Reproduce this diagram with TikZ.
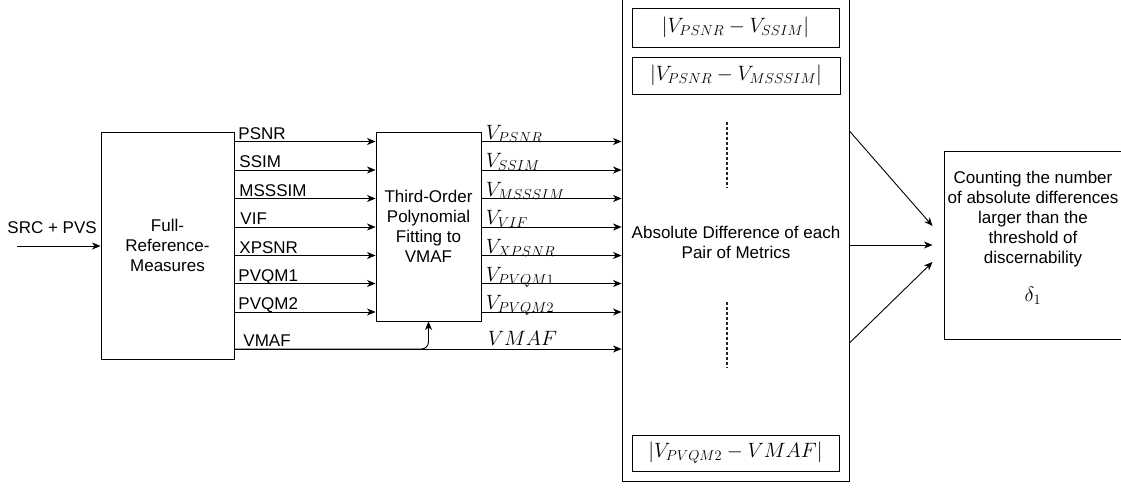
\documentclass[tikz,border=0pt]{standalone}
\usepackage{fontspec}
\setmainfont{Liberation Sans}
\usetikzlibrary{arrows.meta}
\begin{document}
\begin{tikzpicture}[x=1pt,y=-1pt,line width=0.9pt,
  every node/.style={font=\fontsize{17}{20}\selectfont,inner sep=0pt},
  box/.style={draw,rectangle,inner sep=0pt},
  arr/.style={-{Stealth[length=8.5pt,width=7pt,inset=2.5pt]}},
  lbl/.style={anchor=base west},
  mfont/.style={font=\fontsize{21.5}{24}\selectfont},
  mlbl/.style={anchor=base west,mfont},
  dots/.style={dash pattern=on 3pt off 2pt,line width=1.1pt,draw=black!85}]
\clip (0,0) rectangle (1121,487);

% rows of the metric signals
\coordinate (r1) at (0,141.5);
\coordinate (r2) at (0,170);
\coordinate (r3) at (0,198.5);
\coordinate (r4) at (0,227);
\coordinate (r5) at (0,255.5);
\coordinate (r6) at (0,283.5);
\coordinate (r7) at (0,312);
\coordinate (r8) at (0,349);

% blocks
\node[box,minimum width=133pt,minimum height=227pt,align=center] (fr) at (167.5,245.5) {Full-\\Reference-\\Measures};
\node[box,minimum width=105pt,minimum height=189pt,align=center] (fit) at (428.5,226.5) {Third-Order\\Polynomial\\Fitting to\\VMAF};
\node[box,minimum width=227pt,minimum height=490pt] (big) at (735.5,236) {};
\node[box,minimum width=180pt,minimum height=188pt] (rb) at (1034,245) {};

% input
\node[lbl] (srclbl) at (7,233) {SRC + PVS};
\coordinate (src) at (17,246);
\draw[arr] (src) -- (fr.west |- src);

% measures into the fitting block
\foreach \r/\t/\x in {r1/PSNR/238,r2/SSIM/239,r3/MSSSIM/239,r4/VIF/240,r5/XPSNR/239,r6/PVQM1/238,r7/PVQM2/238}{
  \draw[arr] (fr.east |- \r) -- (fit.west |- \r);
  \node[lbl] at ([xshift=\x pt,yshift=2.5pt]\r) {\t};
}
\node[lbl] (vmaflbl) at ([xshift=243pt,yshift=2.5pt]r8) {VMAF};

% fitted metrics into the difference block
\foreach \r/\t in {r1/PSNR,r2/SSIM,r3/MSSSIM,r4/VIF,r5/XPSNR,r6/PVQM1,r7/PVQM2}{
  \draw[arr] (fit.east |- \r) -- (big.west |- \r);
  \node[mlbl] at ([xshift=485.5pt,yshift=2.5pt]\r) {$V_{\t}$};
}

% VMAF passes straight through and also feeds the fitting
\draw[arr] (fr.east |- r8) -- (big.west |- r8);
\draw[arr,rounded corners=7pt] (fr.east |- r8) -| (fit.south);
\node[mfont] (vmafm) at (522.5,338) {$VMAF$};

% pairwise differences
\node[box,minimum width=207pt,minimum height=39pt,mfont] (d1) at (735.5,27.5) {$|V_{PSNR}-V_{SSIM}|$};
\node[box,minimum width=208pt,minimum height=37pt,mfont] (d2) at (736,75.5) {$|V_{PSNR}-V_{MSSSIM}|$};
\node[box,minimum width=207pt,minimum height=36pt,mfont] (d3) at (735.5,453) {$|V_{PVQM2}-VMAF|$};
\node[align=center] (abs) at (736,242) {Absolute Difference of each\\Pair of Metrics};
\coordinate (da1) at (727,122);
\coordinate (da2) at (727,188);
\coordinate (db1) at (727,302);
\coordinate (db2) at (727,368);
\draw[dots] (da1) -- (da2);
\draw[dots] (db1) -- (db2);

% counting block
\node[align=center] (cnt) at (1033,219) {Counting the number\\of absolute differences\\larger than the\\threshold of\\discernability};
\node[mfont] (delta) at (1033,296) {$\delta_1$};
\draw[arr] (big.east |- 0,131) -- ([xshift=-11pt,yshift=19pt]rb.west);
\draw[arr] (big.east |- rb.west) -- ([xshift=-11pt]rb.west);
\draw[arr] (big.east |- 0,343) -- ([xshift=-11pt,yshift=-17pt]rb.west);
\end{tikzpicture}
\end{document}
